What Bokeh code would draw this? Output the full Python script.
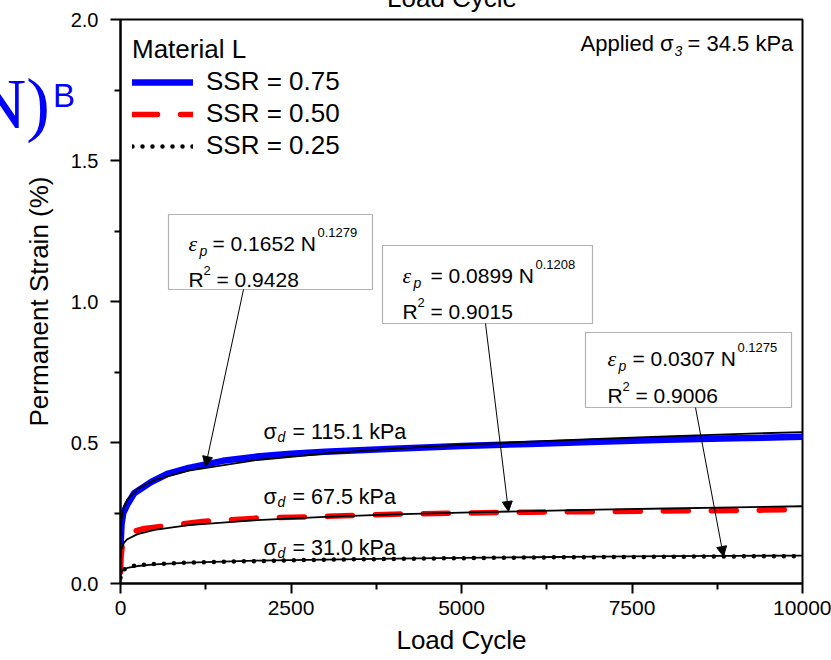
from bokeh.plotting import figure
from bokeh.models import (FixedTicker, Label, BoxAnnotation, Arrow, NormalHead,
                          Legend, LegendItem, NumeralTickFormatter, Range1d, Div)
from bokeh.embed import file_html
from bokeh.resources import INLINE

FONT = "Liberation Sans"
SERIF = "Liberation Serif"

# ---------------- data ----------------
cycles_ssr075 = [0, 15, 40, 70, 100, 200, 450, 700, 1000, 1500, 2000, 2500, 3000,
                 4000, 5000, 6000, 7000, 8000, 9000, 10000]
strain_ssr075 = [0.13, 0.21, 0.25, 0.265, 0.28, 0.32, 0.36, 0.39, 0.41, 0.435, 0.45,
                 0.46, 0.467, 0.478, 0.488, 0.495, 0.503, 0.51, 0.515, 0.52]

cycles_ssr050 = [0, 10, 25, 100, 200, 350, 700, 1200, 2000, 3000, 4000, 5000, 6000,
                 7000, 8000, 9000, 10000]
strain_ssr050 = [0.04, 0.10, 0.13, 0.17, 0.185, 0.195, 0.205, 0.22, 0.232, 0.238,
                 0.246, 0.25, 0.253, 0.255, 0.257, 0.259, 0.262]

cycles_ssr025 = [0, 10, 30, 60, 100, 200, 400, 700, 1000, 1700, 2500, 3100, 4000,
                 4600, 5500, 6500, 7500, 8800, 10000]
strain_ssr025 = [0.02, 0.035, 0.045, 0.05, 0.055, 0.063, 0.068, 0.071, 0.074, 0.078,
                 0.082, 0.085, 0.087, 0.089, 0.091, 0.093, 0.094, 0.096, 0.097]

cycles_fit = [1, 10, 50, 100, 250, 500, 1000, 2000, 3000, 4000, 5000, 6000, 7000,
              8000, 9000, 10000]
fit_ssr075 = [0.165, 0.221, 0.27, 0.298, 0.335, 0.367, 0.40, 0.438, 0.461, 0.478,
              0.492, 0.503, 0.513, 0.522, 0.530, 0.537]
fit_ssr050 = [0.09, 0.119, 0.144, 0.157, 0.175, 0.190, 0.207, 0.225, 0.236, 0.245,
              0.251, 0.257, 0.262, 0.266, 0.270, 0.274]
fit_ssr025 = [0.031, 0.041, 0.050, 0.055, 0.062, 0.068, 0.074, 0.081, 0.085, 0.088,
              0.091, 0.093, 0.095, 0.097, 0.098, 0.099]

series_labels = ["SSR = 0.75", "SSR = 0.50", "SSR = 0.25"]
fit_coef = ["0.1652", "0.0899", "0.0307"]
fit_exp = ["0.1279", "0.1208", "0.1275"]
fit_r2 = ["0.9428", "0.9015", "0.9006"]
deviator = ["115.1", "67.5", "31.0"]

x_ticks = [0, 2500, 5000, 7500, 10000]
x_minor = [1250, 3750, 6250, 8750]
y_ticks = [0.0, 0.5, 1.0, 1.5, 2.0]
y_minor = [0.25, 0.75, 1.25, 1.75]

# ---------------- figure ----------------
p = figure(width=831, height=660,
           x_range=Range1d(0, 10000), y_range=Range1d(0, 2),
           output_backend="svg", toolbar_location=None,
           min_border_left=120, min_border_right=29,
           min_border_top=19, min_border_bottom=77)
p.grid.visible = False
p.outline_line_color = "black"
p.outline_line_width = 2
p.background_fill_color = "white"
p.border_fill_color = "white"

for ax in (p.xaxis[0], p.yaxis[0]):
    ax.axis_line_width = 2
    ax.major_tick_line_width = 2
    ax.minor_tick_line_width = 2
    ax.major_tick_in = 0
    ax.major_tick_out = 10
    ax.minor_tick_in = 0
    ax.minor_tick_out = 6
    ax.major_label_text_font = FONT
    ax.axis_label_text_font = FONT
    ax.axis_label_text_font_style = "normal"
    ax.axis_label_text_color = "black"
    ax.major_label_text_color = "black"

p.xaxis[0].ticker = FixedTicker(ticks=x_ticks, minor_ticks=x_minor)
p.yaxis[0].ticker = FixedTicker(ticks=y_ticks, minor_ticks=y_minor)
p.yaxis[0].formatter = NumeralTickFormatter(format="0.0")
p.xaxis[0].major_label_text_font_size = "21px"
p.yaxis[0].major_label_text_font_size = "20px"
p.xaxis[0].axis_label = "Load Cycle"
p.yaxis[0].axis_label = "Permanent Strain (%)"
p.xaxis[0].axis_label_text_font_size = "26px"
p.yaxis[0].axis_label_text_font_size = "26px"
p.xaxis[0].major_label_standoff = 7
p.yaxis[0].major_label_standoff = 12
p.xaxis[0].axis_label_standoff = 7
p.yaxis[0].axis_label_standoff = 14

# data lines
r075 = p.line(cycles_ssr075, strain_ssr075, line_color="#0000FF", line_width=6.5,
              line_cap="round", line_join="round")
r050 = p.line(cycles_ssr050, strain_ssr050, line_color="#FF0000", line_width=5.5,
              line_dash="25 23", line_cap="round")
r025 = p.line(cycles_ssr025, strain_ssr025, line_color="black", line_width=4.5,
              line_dash="0 10", line_cap="round")

# fitted power-law curves
for fit in (fit_ssr075, fit_ssr050, fit_ssr025):
    p.line(cycles_fit, fit, line_color="black", line_width=1.8)

legend = Legend(items=[LegendItem(label=series_labels[0], renderers=[r075]),
                       LegendItem(label=series_labels[1], renderers=[r050]),
                       LegendItem(label=series_labels[2], renderers=[r025])],
                location=(12, 422), title="Material L",
                title_text_font=FONT, title_text_font_size="26px",
                title_text_font_style="normal", title_text_color="black",
                title_standoff=1,
                label_text_font=FONT, label_text_font_size="26px",
                label_text_color="black",
                glyph_width=61, glyph_height=28, label_height=28,
                label_standoff=13, spacing=1, padding=0, margin=0,
                border_line_alpha=0, background_fill_alpha=0)
p.add_layout(legend)


def to_data(px, py):
    """canvas-pixel position -> data coordinates (layout helper for annotations)"""
    return (px - 120) * 10000 / 682, (583 - py) * 2 / 564


def lab(text, px, py, size, style="normal", font=FONT, color="black"):
    x, y = to_data(px, py)
    p.add_layout(Label(x=x, y=y, text=text,
                       text_font=font, text_font_size=f"{size}px",
                       text_font_style=style, text_color=color,
                       text_align="left", text_baseline="alphabetic"))


# equation boxes: (left, top, right, bottom, eps_x, eq_x, base1, base2, arrow)
boxes = [
    (168, 214, 372, 289, 188, 212, 243, 279, (243, 289, 205, 466)),
    (382, 245, 592, 323, 402, 430, 275, 311, (485, 323, 508, 511)),
    (585, 332, 791, 407, 607, 632, 358, 395, (695, 407, 723, 556)),
]
for i, (l, t, r, b, ex, qx, b1, b2, arr) in enumerate(boxes):
    L, T = to_data(l, t)
    R, B = to_data(r, b)
    p.add_layout(BoxAnnotation(left=L, right=R, top=T, bottom=B,
                               fill_color="white", fill_alpha=1,
                               line_color="black", line_width=1.2))
    lab("ε", ex, b1, 22, "italic", SERIF)
    lab("p", ex + 11, b1 + 7, 14, "italic")
    lab(f"= {fit_coef[i]} N", qx, b1, 21)
    lab(fit_exp[i], qx + 105, b1 - 11, 13)
    lab("R", ex, b2, 21)
    lab("2", ex + 15, b2 - 9, 13)
    lab(f"= {fit_r2[i]}", ex + 28, b2, 21)
    xs, ys = to_data(arr[0], arr[1])
    xe, ye = to_data(arr[2], arr[3])
    p.add_layout(Arrow(end=NormalHead(size=10, fill_color="black", line_color="black"),
                       x_start=xs, y_start=ys, x_end=xe, y_end=ye,
                       line_color="black", line_width=1))

# deviator stress labels
for i, base in enumerate([431, 496, 547]):
    lab("σ", 263, base, 21.5)
    lab("d", 277, base + 5, 14, "italic")
    lab(f"= {deviator[i]} kPa", 292, base, 21.5)

# confining stress
lab("Applied σ", 580, 43, 22)
lab("3", 674, 50, 14, "italic")
lab("= 34.5 kPa", 687, 43, 22)

# fragments of neighbouring figures, cut by the page edges (they lie outside
# the plot frame, so they are an HTML element floating over the canvas)
fragment = Div(
    text=("<span style=\"position:absolute;left:-25px;top:68px;"
          "font-family:'Liberation Serif';font-size:71px;line-height:72px;"
          "color:#0000FF;white-space:nowrap\">N)</span>"
          "<span style=\"position:absolute;left:53px;top:79px;"
          "font-family:'Liberation Sans';font-size:33px;line-height:33px;"
          "color:#0000FF;white-space:nowrap\">B</span>"
          "<span style=\"position:absolute;left:387px;top:-15px;"
          "font-family:'Liberation Sans';font-size:26px;line-height:26px;"
          "color:#000000;white-space:nowrap\">Load Cycle</span>"),
    styles={"position": "absolute", "left": "0px", "top": "0px",
            "width": "0px", "height": "0px", "overflow": "visible",
            "pointer-events": "none"},
)
try:
    p.elements = [fragment]
except Exception:
    pass

open("out.html", "w").write(file_html(p, INLINE))
